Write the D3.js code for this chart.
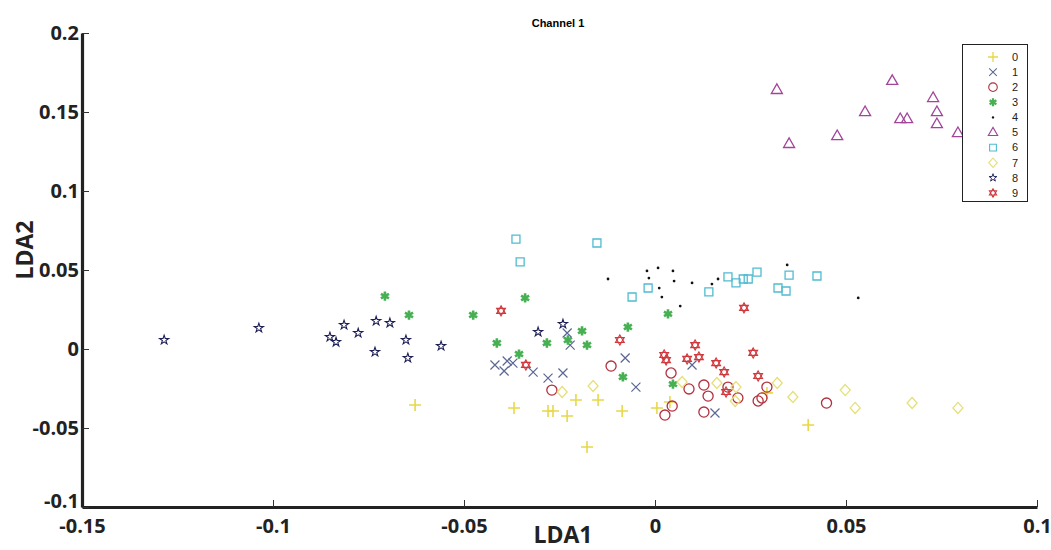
<!DOCTYPE html>
<html>
<head>
<meta charset="utf-8">
<script src="https://cdn.jsdelivr.net/npm/d3@7"></script>
<style>
  html, body { margin: 0; padding: 0; background: #fff; }
  svg { display: block; }
</style>
</head>
<body>
<svg id="chart" width="1051" height="550"></svg>
<script>
// LDA projection of digit classes 0-9, channel 1
const classLabels = ["0", "1", "2", "3", "4", "5", "6", "7", "8", "9"];
const xTicks = [-0.15, -0.1, -0.05, 0, 0.05, 0.1];
const yTicks = [-0.1, -0.05, 0, 0.05, 0.1, 0.15, 0.2];

const digit0 = [[-0.0628,-0.0354],[-0.0369,-0.0373],[-0.0280,-0.0392],[-0.0267,-0.0392],[-0.0230,-0.0424],
  [-0.0207,-0.0323],[-0.0149,-0.0323],[-0.0086,-0.0392],[-0.0178,-0.0620],[0.0005,-0.0373],
  [0.0039,-0.0335],[0.0401,-0.0481],[0.0293,-0.0278]];
const digit1 = [[-0.0419,-0.0101],[-0.0395,-0.0139],[-0.0387,-0.0076],[-0.0372,-0.0089],[-0.0319,-0.0146],
  [-0.0280,-0.0184],[-0.0241,-0.0152],[-0.0230,0.0101],[-0.0222,0.0025],[-0.0078,-0.0057],
  [-0.0050,-0.0241],[0.0097,-0.0101],[0.0157,-0.0405]];
const digit2 = [[-0.0115,-0.0108],[-0.0270,-0.0260],[0.0042,-0.0152],[0.0045,-0.0361],[0.0026,-0.0418],
  [0.0089,-0.0253],[0.0128,-0.0228],[0.0139,-0.0298],[0.0128,-0.0399],[0.0217,-0.0310],
  [0.0270,-0.0329],[0.0280,-0.0310],[0.0293,-0.0241],[0.0449,-0.0342],[0.0191,-0.0241]];
const digit3 = [[-0.0707,0.0335],[-0.0644,0.0215],[-0.0476,0.0215],[-0.0340,0.0323],[-0.0414,0.0038],
  [-0.0356,-0.0032],[-0.0283,0.0038],[-0.0228,0.0057],[-0.0178,0.0025],[-0.0191,0.0114],
  [-0.0071,0.0139],[0.0034,0.0222],[-0.0084,-0.0177],[0.0047,-0.0222]];
const digit4 = [[-0.0123,0.0443],[-0.0021,0.0494],[0.0008,0.0513],[0.0047,0.0494],[-0.0016,0.0449],
  [0.0050,0.0430],[0.0011,0.0386],[0.0018,0.0329],[0.0066,0.0272],[0.0097,0.0418],
  [0.0149,0.0411],[0.0165,0.0443],[0.0346,0.0532],[0.0532,0.0323]];
const digit5 = [[0.0319,0.1640],[0.0621,0.1697],[0.0728,0.1589],[0.0550,0.1500],[0.0642,0.1456],
  [0.0660,0.1456],[0.0738,0.1500],[0.0738,0.1424],[0.0793,0.1367],[0.0477,0.1348],[0.0351,0.1298]];
const digit6 = [[-0.0364,0.0696],[-0.0152,0.0671],[-0.0353,0.0551],[-0.0060,0.0329],[-0.0018,0.0386],
  [0.0141,0.0361],[0.0191,0.0456],[0.0212,0.0418],[0.0231,0.0443],[0.0244,0.0443],
  [0.0267,0.0487],[0.0322,0.0386],[0.0343,0.0367],[0.0351,0.0468],[0.0424,0.0462]];
const digit7 = [[-0.0243,-0.0272],[-0.0162,-0.0234],[0.0071,-0.0209],[0.0162,-0.0215],[0.0212,-0.0241],
  [0.0210,-0.0329],[0.0320,-0.0215],[0.0361,-0.0304],[0.0498,-0.0260],[0.0524,-0.0373],
  [0.0673,-0.0342],[0.0793,-0.0373]];
const digit8 = [[-0.1285,0.0057],[-0.1037,0.0133],[-0.0851,0.0076],[-0.0835,0.0044],[-0.0814,0.0152],
  [-0.0777,0.0101],[-0.0730,0.0177],[-0.0694,0.0165],[-0.0733,-0.0019],[-0.0652,0.0057],
  [-0.0647,-0.0057],[-0.0560,0.0019],[-0.0306,0.0108],[-0.0241,0.0158]];
const digit9 = [[-0.0403,0.0241],[-0.0092,0.0057],[0.0024,-0.0038],[0.0029,-0.0070],[0.0105,0.0025],
  [0.0084,-0.0063],[0.0115,-0.0051],[0.0160,-0.0089],[0.0257,-0.0025],[0.0181,-0.0146],
  [0.0270,-0.0171],[0.0186,-0.0272],[0.0233,0.0260],[-0.0338,-0.0101]];

const seriesData = [digit0, digit1, digit2, digit3, digit4, digit5, digit6, digit7, digit8, digit9];

// marker shape and colour for each class
const markerStyle = [
  { shape: "plus",     color: "#e8d84a", width: 1.6 },
  { shape: "x",        color: "#5b6794", width: 1.2 },
  { shape: "circle",   color: "#b3303f", width: 1.3 },
  { shape: "asterisk", color: "#46b052", width: 2.6 },
  { shape: "dot",      color: "#111111", width: 0 },
  { shape: "triangle", color: "#a2449a", width: 1.3 },
  { shape: "square",   color: "#4fbcd0", width: 1.3 },
  { shape: "diamond",  color: "#e6df7a", width: 1.3 },
  { shape: "star",     color: "#1d1f55", width: 1.1 },
  { shape: "hexagram", color: "#d0383c", width: 1.2 }
];

function markerPath(shape) {
  switch (shape) {
    case "plus": return "M-6,0L6,0M0,-6L0,6";
    case "x": return "M-4.5,-4.5L4.5,4.5M-4.5,4.5L4.5,-4.5";
    case "circle": return d3.symbol(d3.symbolCircle, 80)();
    case "asterisk": return d3.symbol(d3.symbolAsterisk, 60)();
    case "dot": return d3.symbol(d3.symbolCircle, 6)();
    case "triangle": {
      const r = 6;
      return `M0,${-r}L${r * 0.92},${r * 0.6}L${-r * 0.92},${r * 0.6}Z`;
    }
    case "square": return "M-4,-4L4,-4L4,4L-4,4Z";
    case "diamond": return "M0,-5.5L5,0L0,5.5L-5,0Z";
    case "star": return d3.symbol(d3.symbolStar, 26)();
    case "hexagram": {
      const r = 5;
      const tri = off => d3.range(3).map(k => {
        const a = (off + k * 120) * Math.PI / 180;
        return [r * Math.cos(a), r * Math.sin(a)];
      });
      const toPath = pts => "M" + pts.map(p => p[0].toFixed(2) + "," + p[1].toFixed(2)).join("L") + "Z";
      return toPath(tri(-90)) + toPath(tri(90));
    }
  }
}

const svg = d3.select("#chart");
const margin = { left: 82, right: 14, top: 33, bottom: 43 };
const W = 1051, H = 550;

const x = d3.scaleLinear().domain([-0.15, 0.1]).range([margin.left, W - margin.right]);
const y = d3.scaleLinear().domain([-0.1, 0.2]).range([H - margin.bottom, margin.top]);

// title
svg.append("text")
  .attr("x", 558).attr("y", 27)
  .attr("text-anchor", "middle")
  .style("font-family", "Liberation Sans, Arial, sans-serif")
  .style("font-size", "11px").style("font-weight", "bold")
  .text("Channel 1");

// axes
const fmt = d => d === 0 ? "0" : String(+d.toFixed(2));
const xAxis = d3.axisBottom(x).tickValues(xTicks).tickFormat(fmt).tickSizeInner(-7).tickSizeOuter(0).tickPadding(12);
const yAxis = d3.axisLeft(y).tickValues(yTicks).tickFormat(fmt).tickSizeInner(-7).tickSizeOuter(0).tickPadding(6);

const gx = svg.append("g").attr("transform", `translate(0,${H - margin.bottom})`).call(xAxis);
const gy = svg.append("g").attr("transform", `translate(${margin.left},0)`).call(yAxis);

[gx, gy].forEach(g => {
  g.select(".domain").attr("stroke", "#222").attr("stroke-width", 3.2);
  g.selectAll(".tick line").attr("stroke", "#333").attr("stroke-width", 1);
  g.selectAll(".tick text")
    .style("font-family", "Open Sans, sans-serif")
    .style("font-size", "20px").style("font-weight", "bold")
    .attr("fill", "#222");
});
gy.selectAll(".tick text").attr("dx", "0.15em");
// the lowest y label sits a little above its tick, clear of the x labels
gy.selectAll(".tick").filter(d => d === -0.1).select("text").attr("dy", "0.0em");

// axis labels
svg.append("text")
  .attr("x", 563).attr("y", 543)
  .attr("text-anchor", "middle")
  .style("font-family", "Open Sans, sans-serif")
  .style("font-size", "23px").style("font-weight", "bold")
  .attr("fill", "#222")
  .text("LDA1");

svg.append("text")
  .attr("transform", "translate(33,250) rotate(-90)")
  .attr("text-anchor", "middle")
  .style("font-family", "Open Sans, sans-serif")
  .style("font-size", "23px").style("font-weight", "bold")
  .attr("fill", "#222")
  .text("LDA2");

// points
const plot = svg.append("g");
seriesData.forEach((pts, i) => {
  const st = markerStyle[i];
  const d = markerPath(st.shape);
  const filled = st.shape === "dot" || st.shape === "asterisk";
  plot.append("g").selectAll("path")
    .data(pts)
    .join("path")
    .attr("d", d)
    .attr("transform", p => `translate(${x(p[0])},${y(p[1])})`)
    .attr("fill", filled ? st.color : "none")
    .attr("stroke", st.shape === "dot" ? "none" : st.color)
    .attr("stroke-width", st.width);
});

// legend
const lg = svg.append("g");
lg.append("rect")
  .attr("x", 962.5).attr("y", 44.5).attr("width", 65).attr("height", 157)
  .attr("fill", "#fff").attr("stroke", "#222").attr("stroke-width", 1);
const rowY = i => 57 + i * 15.1;
classLabels.forEach((lab, i) => {
  const st = markerStyle[i];
  const filled = st.shape === "dot" || st.shape === "asterisk";
  lg.append("path")
    .attr("d", markerPath(st.shape))
    .attr("transform", `translate(993,${rowY(i)}) scale(0.85)`)
    .attr("fill", filled ? st.color : "none")
    .attr("stroke", st.shape === "dot" ? "none" : st.color)
    .attr("stroke-width", st.width);
  lg.append("text")
    .attr("x", 1012).attr("y", rowY(i)).attr("dy", "0.35em")
    .style("font-family", "Liberation Sans, Arial, sans-serif")
    .style("font-size", "11px")
    .attr("fill", "#222")
    .text(lab);
});
</script>
</body>
</html>
